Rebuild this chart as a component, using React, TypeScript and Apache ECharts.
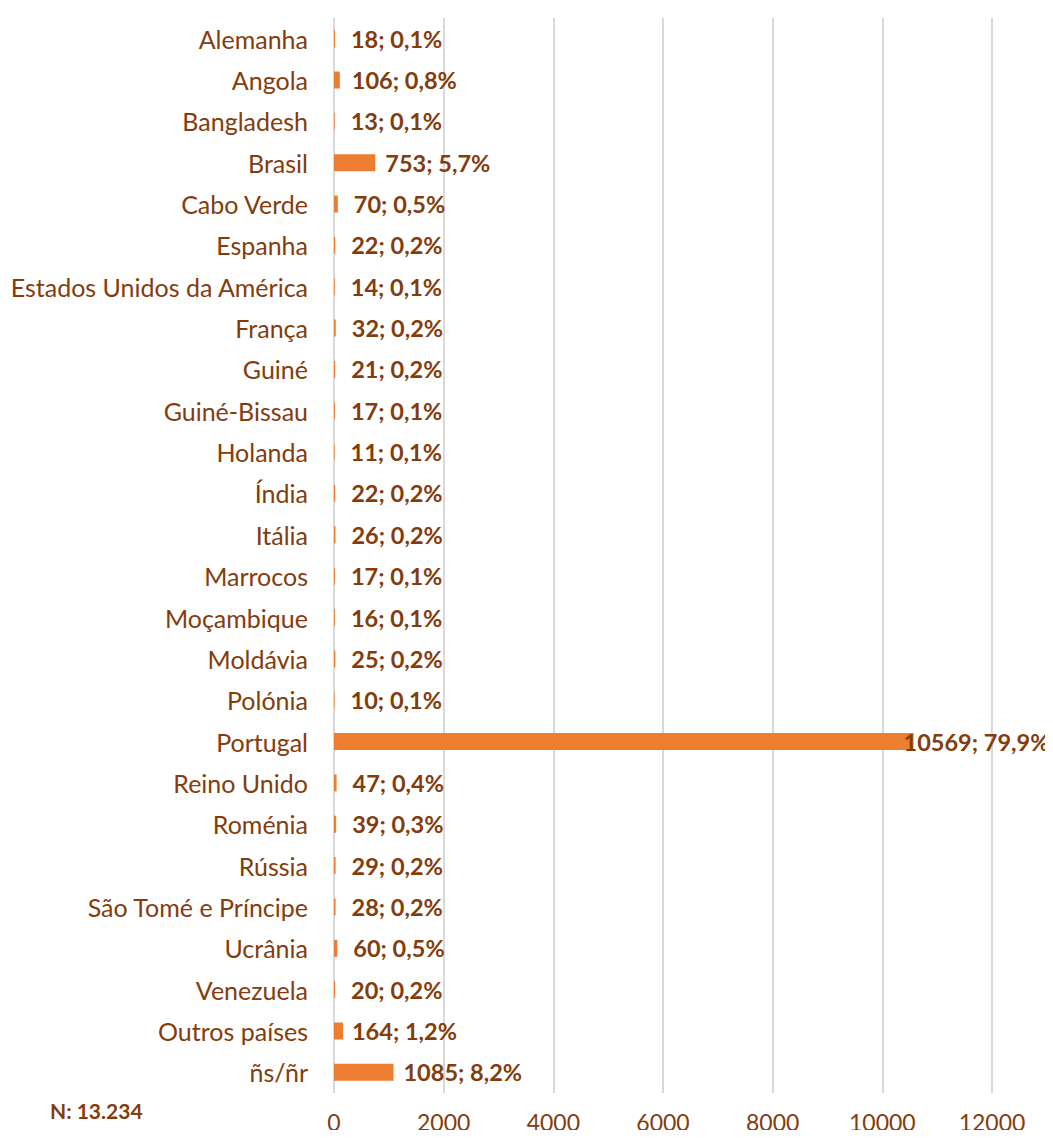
import React, { useEffect, useRef } from "react";
import * as echarts from "echarts";

const categories = [
  "Alemanha", "Angola", "Bangladesh", "Brasil", "Cabo Verde", "Espanha",
  "Estados Unidos da América", "França", "Guiné", "Guiné-Bissau", "Holanda",
  "Índia", "Itália", "Marrocos", "Moçambique", "Moldávia", "Polónia",
  "Portugal", "Reino Unido", "Roménia", "Rússia", "São Tomé e Príncipe",
  "Ucrânia", "Venezuela", "Outros países", "ñs/ñr",
];
const values = [18, 106, 13, 753, 70, 22, 14, 32, 21, 17, 11, 22, 26, 17, 16, 25, 10, 10569, 47, 39, 29, 28, 60, 20, 164, 1085];
const percents = ["0,1%", "0,8%", "0,1%", "5,7%", "0,5%", "0,2%", "0,1%", "0,2%", "0,2%", "0,1%", "0,1%", "0,2%", "0,2%", "0,1%", "0,1%", "0,2%", "0,1%", "79,9%", "0,4%", "0,3%", "0,2%", "0,2%", "0,5%", "0,2%", "1,2%", "8,2%"];
const xTicks = [0, 2000, 4000, 6000, 8000, 10000, 12000];
const totalNote = "N: 13.234";

const BROWN = "#843C0C";
const ORANGE = "#ED7D31";
const FONT = "Lato";

function labelDistance(v: number): number {
  if (v > 5000) return -10;
  if (v < 100) return 16;
  if (v < 150) return 12;
  if (v < 300) return 9;
  return 10;
}

export default function App() {
  const ref = useRef<HTMLDivElement>(null);
  useEffect(() => {
    if (!ref.current) return;
    const chart = echarts.init(ref.current, null, { renderer: "svg" });
    chart.setOption({
      animation: false,
      grid: { left: 334, right: 61, top: 18, bottom: 45, containLabel: false },
      xAxis: {
        type: "value",
        min: xTicks[0],
        max: xTicks[xTicks.length - 1],
        interval: 2000,
        axisLine: { show: false },
        axisTick: { show: false },
        splitLine: { show: true, lineStyle: { color: "#D9D9D9", width: 2 } },
        axisLabel: {
          color: BROWN,
          fontSize: 23,
          fontFamily: FONT,
          margin: 17,
          formatter: (v: number) => String(v),
        },
      },
      yAxis: {
        type: "category",
        inverse: true,
        data: categories,
        axisLine: { show: false },
        axisTick: { show: false },
        axisLabel: { color: BROWN, fontSize: 25, fontFamily: FONT, margin: 26 },
      },
      series: [
        {
          type: "bar",
          barWidth: "41%",
          itemStyle: { color: ORANGE },
          data: values.map((v) => ({
            value: v,
            label: { distance: labelDistance(v) },
          })),
          label: {
            show: true,
            position: "right",
            color: BROWN,
            fontWeight: "bold",
            fontSize: 23.5,
            fontFamily: FONT,
            formatter: (p: any) => `${values[p.dataIndex]}; ${percents[p.dataIndex]}`,
          },
        },
      ],
      graphic: [
        {
          type: "text",
          left: 50,
          top: 1100,
          style: { text: totalNote, fill: BROWN, font: `bold 21px ${FONT}` },
        },
      ],
    });
    return () => chart.dispose();
  }, []);
  return <div ref={ref} style={{ width: 1053, height: 1138, margin: -8 }} />;
}
